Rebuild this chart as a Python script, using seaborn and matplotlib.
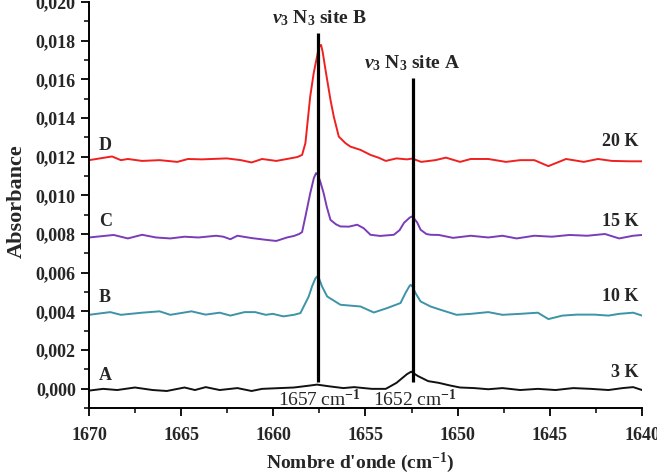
import matplotlib
matplotlib.use("Agg")
import matplotlib.pyplot as plt
import seaborn as sns
import pandas as pd
from matplotlib.ticker import MultipleLocator, FuncFormatter

# Spectre A (3 K)
w_a = [1670.0, 1669.23, 1668.47, 1667.51, 1666.55, 1665.78, 1664.82, 1664.25, 1663.67,
       1662.91, 1661.95, 1661.18, 1660.61, 1659.65, 1658.88, 1658.11, 1657.63, 1656.96,
       1656.20, 1655.62, 1654.66, 1653.90, 1653.32, 1652.75, 1652.52, 1652.17, 1651.60,
       1651.02, 1650.44, 1649.87, 1649.10, 1648.34, 1647.57, 1646.61, 1645.65, 1644.69,
       1643.73, 1642.78, 1641.82, 1641.05, 1640.48, 1640.0]
abs_a = [-0.00010, -0.00001, -0.00007, 0.00006, -0.00007, -0.00012, 0.00006, -0.00007, 0.00008,
         -0.00007, 0.00003, -0.00012, -0.00001, 0.00003, 0.00006, 0.00015, 0.00021, 0.00012,
         0.00003, 0.00008, -0.00001, -0.00001, 0.00030, 0.00075, 0.00088, 0.00066, 0.00039,
         0.00030, 0.00017, 0.00006, 0.00003, -0.00003, 0.00003, -0.00007, -0.00001, -0.00007,
         0.00003, -0.00001, -0.00007, 0.00003, 0.00008, -0.00007]

# Spectre B (10 K)
w_b = [1670.0, 1668.85, 1668.27, 1667.12, 1666.17, 1665.59, 1664.44, 1663.67, 1662.91,
       1662.33, 1661.56, 1660.99, 1660.41, 1660.03, 1659.46, 1658.88, 1658.53, 1658.08,
       1657.90, 1657.72, 1657.63, 1657.50, 1657.36, 1657.08, 1656.36, 1655.27, 1654.55,
       1653.82, 1653.10, 1652.83, 1652.62, 1652.55, 1652.45, 1652.29, 1652.01, 1651.47,
       1650.83, 1650.06, 1649.29, 1648.34, 1647.57, 1646.61, 1645.65, 1645.08, 1644.31,
       1643.54, 1642.58, 1641.82, 1641.24, 1640.48, 1640.0]
abs_b = [0.00382, 0.00396, 0.00382, 0.00393, 0.00400, 0.00382, 0.00400, 0.00383, 0.00393,
         0.00378, 0.00396, 0.00396, 0.00382, 0.00387, 0.00374, 0.00382, 0.00391, 0.00477,
         0.00529, 0.00570, 0.00580, 0.00565, 0.00529, 0.00477, 0.00434, 0.00425, 0.00394,
         0.00417, 0.00443, 0.00495, 0.00530, 0.00537, 0.00528, 0.00495, 0.00451, 0.00425,
         0.00405, 0.00382, 0.00387, 0.00396, 0.00382, 0.00387, 0.00393, 0.00360, 0.00378,
         0.00383, 0.00383, 0.00378, 0.00387, 0.00393, 0.00378]

# Spectre C (15 K)
w_c = [1670.0, 1668.66, 1667.89, 1667.12, 1666.36, 1665.59, 1664.82, 1664.06, 1663.10,
       1662.71, 1662.33, 1661.95, 1661.18, 1660.41, 1659.84, 1659.26, 1658.88, 1658.60,
       1658.44, 1658.26, 1658.00, 1657.80, 1657.68, 1657.58, 1657.45, 1657.27, 1657.10,
       1656.90, 1656.60, 1656.36, 1655.90, 1655.45, 1655.10, 1654.73, 1654.20, 1653.46,
       1653.15, 1652.91, 1652.60, 1652.50, 1652.38, 1652.20, 1652.01, 1651.70, 1651.47,
       1651.02, 1650.25, 1649.29, 1648.34, 1647.57, 1646.80, 1645.84, 1644.89, 1643.93,
       1642.97, 1642.01, 1641.24, 1640.48, 1640.0]
abs_c = [0.00782, 0.00795, 0.00777, 0.00796, 0.00782, 0.00777, 0.00786, 0.00782, 0.00791,
         0.00786, 0.00773, 0.00791, 0.00779, 0.00770, 0.00764, 0.00782, 0.00790, 0.00800,
         0.00810, 0.00890, 0.01010, 0.01090, 0.01115, 0.01105, 0.01070, 0.01011, 0.00940,
         0.00873, 0.00850, 0.00839, 0.00838, 0.00848, 0.00830, 0.00796, 0.00790, 0.00796,
         0.00820, 0.00858, 0.00885, 0.00890, 0.00882, 0.00860, 0.00822, 0.00800, 0.00796,
         0.00795, 0.00780, 0.00791, 0.00782, 0.00791, 0.00777, 0.00791, 0.00786, 0.00795,
         0.00791, 0.00800, 0.00777, 0.00791, 0.00795]

# Spectre D (20 K)
w_d = [1670.0, 1668.75, 1668.27, 1667.89, 1667.12, 1666.17, 1665.21, 1664.63, 1663.87,
       1662.52, 1661.76, 1661.18, 1660.61, 1659.84, 1659.26, 1658.70, 1658.44, 1658.26,
       1658.00, 1657.81, 1657.54, 1657.47, 1657.41, 1657.32, 1657.17, 1656.90, 1656.72,
       1656.45, 1656.09, 1655.82, 1655.43, 1655.27, 1654.73, 1654.30, 1653.90, 1653.32,
       1652.75, 1652.46, 1651.98, 1651.21, 1650.64, 1649.87, 1649.29, 1648.34, 1647.38,
       1646.61, 1645.84, 1645.08, 1644.12, 1643.16, 1642.39, 1641.63, 1640.67, 1640.0]
abs_d = [0.01182, 0.01201, 0.01182, 0.01188, 0.01178, 0.01182, 0.01173, 0.01188, 0.01186,
         0.01191, 0.01182, 0.01170, 0.01188, 0.01178, 0.01188, 0.01198, 0.01209, 0.01270,
         0.01511, 0.01632, 0.01761, 0.01775, 0.01778, 0.01740, 0.01649, 0.01494, 0.01407,
         0.01304, 0.01270, 0.01252, 0.01240, 0.01235, 0.01209, 0.01195, 0.01178, 0.01191,
         0.01186, 0.01190, 0.01173, 0.01182, 0.01195, 0.01173, 0.01188, 0.01188, 0.01173,
         0.01182, 0.01182, 0.01151, 0.01188, 0.01173, 0.01188, 0.01178, 0.01176, 0.01176]

spectres = ["A", "B", "C", "D"]
temperatures = ["3 K", "10 K", "15 K", "20 K"]
couleurs = {"A": "#111111", "B": "#3d93a8", "C": "#7a3cb8", "D": "#f02020"}

# sites (position des raies)
sites_w = [1657.6, 1652.45]
sites_haut = [0.0184, 0.01607]
sites_noms = [r"$\mathit{v}_{\mathbf{3}}$ N$_{\mathbf{3}}$ site B",
              r"$\mathit{v}_{\mathbf{3}}$ N$_{\mathbf{3}}$ site A"]
sites_cm = ["1657 cm$^{-1}$", "1652 cm$^{-1}$"]


def configurar_graficos():
    sns.set_style("ticks")
    plt.rcParams["font.family"] = ["Liberation Serif", "DejaVu Serif"]
    plt.rcParams["font.weight"] = "bold"
    plt.rcParams["mathtext.fontset"] = "custom"
    plt.rcParams["mathtext.rm"] = "Liberation Serif"
    plt.rcParams["mathtext.it"] = "Liberation Serif:italic:bold"
    plt.rcParams["mathtext.bf"] = "Liberation Serif:bold"


configurar_graficos()

df = pd.concat([
    pd.DataFrame({"w": w, "absorbance": a, "spectre": s})
    for s, w, a in zip(spectres, [w_a, w_b, w_c, w_d], [abs_a, abs_b, abs_c, abs_d])
])

fig = plt.figure(figsize=(6.57, 4.75), dpi=100)
ax = fig.add_axes([89 / 657, 1 - 408 / 475, 553 / 657, 406 / 475])

sns.lineplot(data=df, x="w", y="absorbance", hue="spectre", palette=couleurs,
             estimator=None, linewidth=1.4, legend=False, ax=ax)

ax.vlines(sites_w, 0.00036, sites_haut, color="black", linewidth=2.3, zorder=5)

ax.set_xlim(1670, 1640)
ax.set_ylim(-0.001, 0.020)
ax.xaxis.set_major_locator(MultipleLocator(5))
ax.xaxis.set_minor_locator(MultipleLocator(2.5))
ax.yaxis.set_major_locator(MultipleLocator(0.002))
ax.yaxis.set_minor_locator(MultipleLocator(0.001))
ax.xaxis.set_major_formatter(FuncFormatter(lambda v, p: f"{v:.0f}"))
ax.yaxis.set_major_formatter(FuncFormatter(lambda v, p: f"{v:.3f}".replace(".", ",")))
ax.tick_params(axis="both", which="major", direction="out", length=6, width=1.3,
               labelsize=13, color="black")
ax.tick_params(axis="both", which="minor", direction="out", length=3.5, width=1.1,
               color="black")
ax.tick_params(axis="x", which="major", pad=8)
sns.despine(ax=ax)
for sp in ["left", "bottom"]:
    ax.spines[sp].set_linewidth(1.4)
    ax.spines[sp].set_color("black")

ax.set_xlabel(r"Nombre d'onde (cm$^{\mathbf{-1}}$)", fontsize=14, fontweight="bold")
ax.set_ylabel("Absorbance", fontsize=16, fontweight="bold")
ax.xaxis.set_label_coords(0.49, -0.105)
ax.yaxis.set_label_coords(-0.112, 0.51)

# étiquettes des spectres
niveaux = [0.00067, 0.0047, 0.00863, 0.01256]
niveaux_t = [0.00083, 0.00477, 0.00865, 0.01277]
for s, t, y1, y2 in zip(spectres, temperatures, niveaux, niveaux_t):
    ax.text(1669.45, y1, s, fontsize=13, fontweight="bold", va="center", ha="left")
    ax.text(1640.2, y2, t, fontsize=13, fontweight="bold", va="center", ha="right")

ax.text(1657.5, 0.01917, sites_noms[0], fontsize=14, fontweight="bold", ha="center", va="center")
ax.text(1652.45, 0.01685, sites_noms[1], fontsize=14, fontweight="bold", ha="center", va="center")
ax.text(1657.5, -0.00057, sites_cm[0], fontsize=14, fontweight="normal", ha="center", va="center")
ax.text(1652.3, -0.00057, sites_cm[1], fontsize=14, fontweight="normal", ha="center", va="center")

fig.savefig("out.png", dpi=100)
